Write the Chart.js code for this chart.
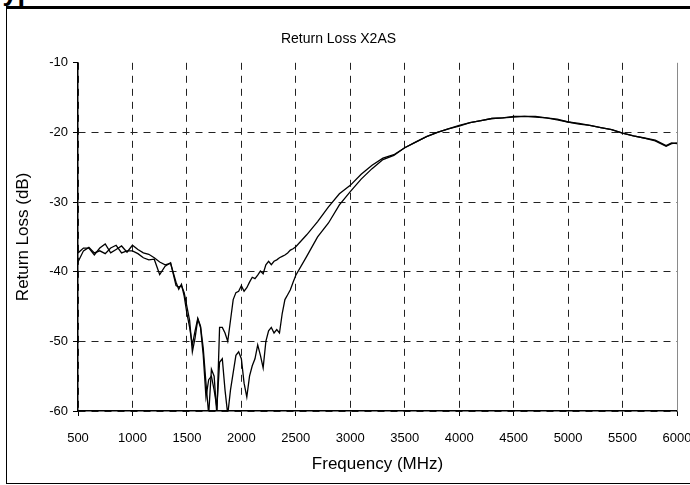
<!DOCTYPE html>
<html>
<head>
<meta charset="utf-8">
<script src="https://cdn.jsdelivr.net/npm/chart.js@4"></script>
<style>
  html, body { margin: 0; padding: 0; width: 690px; height: 485px; overflow: hidden; background: #fff; }
  #heading { position: absolute; left: -12px; top: -24px; font: bold 27px "Liberation Sans", Arial, sans-serif; white-space: nowrap; }
  #frame { position: absolute; left: 6px; top: 6px; width: 720px; height: 474px; border-top: 3px solid #000; border-left: 1px solid #000; border-bottom: 1px solid #000; background: transparent; }
  #wrap { position: absolute; left: 0; top: 0; width: 720px; height: 485px; }
</style>
</head>
<body>
<div id="heading">Typical Return Loss Characteristics</div>
<div id="frame"></div>
<div id="wrap"><canvas id="chart"></canvas></div>
<script>
// frequency points (MHz)
const freqs = [500, 550, 600, 650, 700, 750, 800, 850, 900, 950, 1000, 1050, 1100, 1150, 1200, 1250, 1300, 1350, 1400,
  1425, 1450, 1475, 1500, 1525, 1550, 1575, 1600, 1625, 1650, 1675, 1700, 1725, 1750, 1775, 1800, 1825, 1850, 1875, 1900,
  1925, 1950, 1975, 2000, 2025, 2050, 2075, 2100, 2125, 2150, 2175, 2200, 2225, 2250, 2275, 2300, 2325, 2350, 2375, 2400,
  2425, 2450, 2475, 2500, 2600, 2700, 2800, 2900, 3000, 3100, 3200, 3300, 3400, 3500, 3600, 3700, 3800, 3900, 4000,
  4100, 4200, 4300, 4400, 4500, 4600, 4700, 4800, 4900, 5000, 5100, 5200, 5300, 5400, 5500, 5600, 5700, 5800, 5900, 5950, 6000];

// return loss (dB), trace that recovers first
const lossA = [-37.3, -36.6, -36.6, -37.6, -36.6, -36.0, -37.3, -36.8, -36.3, -37.2, -36.2, -36.8, -37.3, -37.5, -38.0, -38.6, -39.0, -38.8, -41.5,
  -42.5, -41.8, -43.5, -46.0, -48.0, -50.5, -48.5, -46.7, -47.8, -51.0, -56.0, -60.5, -54.0, -55.0, -60.5, -48.0, -48.0, -48.8, -50.0, -47.0,
  -44.0, -43.0, -42.8, -42.0, -42.8, -42.3, -41.5, -40.8, -41.0, -40.5, -39.9, -40.3, -39.0, -38.5, -39.0, -38.5, -38.3, -38.0, -37.8, -37.6,
  -37.3, -36.9, -36.7, -36.4, -34.7, -32.8, -30.7, -28.8, -27.6, -26.0, -24.7, -23.7, -23.2, -22.2, -21.4, -20.6, -20.0, -19.5, -19.0,
  -18.6, -18.3, -18.0, -17.9, -17.7, -17.7, -17.7, -17.9, -18.1, -18.5, -18.7, -19.0, -19.3, -19.6, -20.1, -20.5, -20.8, -21.1, -21.9, -21.5, -21.6];

// return loss (dB), trace with the deeper notch
const lossB = [-38.6, -37.0, -36.5, -37.3, -37.0, -37.4, -36.6, -36.2, -37.3, -37.0, -37.0, -37.4, -38.0, -38.3, -38.2, -40.4, -39.2, -38.7, -42.0,
  -42.2, -42.0, -43.0, -45.0, -47.0, -51.5, -49.5, -46.8, -48.0, -52.0, -58.0, -55.5, -55.0, -57.0, -59.5, -53.0, -52.5, -57.0, -60.5, -57.0,
  -54.5, -52.0, -51.5, -52.5, -56.0, -58.0, -55.0, -53.5, -52.5, -50.5, -52.0, -53.8, -50.0, -48.5, -48.0, -48.8, -48.3, -48.8, -46.0, -44.0,
  -43.3, -42.6, -41.5, -40.5, -37.8, -35.0, -33.0, -30.4, -28.5, -26.7, -25.2, -23.9, -23.3, -22.2, -21.4, -20.6, -20.0, -19.5, -19.1,
  -18.6, -18.3, -18.0, -17.9, -17.8, -17.7, -17.8, -17.9, -18.2, -18.5, -18.8, -19.0, -19.3, -19.6, -20.1, -20.5, -20.8, -21.2, -22.0, -21.6, -21.5];

const font = '"Liberation Sans", Arial, sans-serif';

const rightEdge = {
  id: 'rightEdge',
  afterDraw(c) {
    const a = c.chartArea, ctx = c.ctx;
    ctx.save();
    ctx.strokeStyle = '#8a8a8a';
    ctx.lineWidth = 1;
    ctx.beginPath();
    ctx.moveTo(a.right + 0.5, a.top);
    ctx.lineTo(a.right + 0.5, a.bottom);
    ctx.stroke();
    ctx.restore();
  }
};

new Chart(document.getElementById('chart'), {
  type: 'line',
  data: {
    datasets: [
      { label: 'A', data: freqs.map((f, i) => ({ x: f, y: lossA[i] })), borderColor: '#000', borderWidth: 1.3, pointRadius: 0, tension: 0 },
      { label: 'B', data: freqs.map((f, i) => ({ x: f, y: lossB[i] })), borderColor: '#000', borderWidth: 1.3, pointRadius: 0, tension: 0 }
    ]
  },
  options: {
    responsive: true,
    maintainAspectRatio: false,
    animation: false,
    layout: { padding: { left: 0, right: 43, top: 0, bottom: 0 } },
    plugins: {
      legend: { display: false },
      tooltip: { enabled: false },
      title: {
        display: true,
        text: 'Return Loss X2AS',
        color: '#000',
        font: { family: font, size: 14, weight: 'normal' },
        padding: { top: 31, bottom: 15 }
      }
    },
    scales: {
      x: {
        type: 'linear',
        min: 500, max: 6000,
        ticks: { stepSize: 500, color: '#000', font: { family: font, size: 13 }, padding: 15, maxRotation: 0, callback: v => String(v) },
        grid: {
          color: c => c.tick && c.tick.value === 6000 ? 'rgba(0,0,0,0)' : '#222',
          lineWidth: 1, tickLength: 5, tickColor: '#000', tickBorderDash: []
        },
        border: { display: true, color: '#000', width: 1.5, dash: [7, 6] },
        title: { display: true, text: 'Frequency (MHz)', color: '#000', font: { family: font, size: 17 }, padding: { top: 6, bottom: 10 } },
        afterFit: s => { s.height = 74; }
      },
      y: {
        min: -60, max: -10,
        ticks: { stepSize: 10, color: '#000', font: { family: font, size: 13 }, padding: 5, callback: v => String(v) },
        grid: {
          color: c => c.tick && c.tick.value === -10 ? 'rgba(0,0,0,0)' : '#222',
          lineWidth: 1, tickLength: 5, tickColor: '#000', tickBorderDash: []
        },
        border: { display: true, color: '#000', width: 1.5, dash: [7, 6] },
        title: { display: true, text: 'Return Loss (dB)', color: '#000', font: { family: font, size: 17 }, padding: { top: 13, bottom: 4 } },
        afterFit: s => { s.width = 78; }
      }
    }
  },
  plugins: [rightEdge]
});
</script>
</body>
</html>
